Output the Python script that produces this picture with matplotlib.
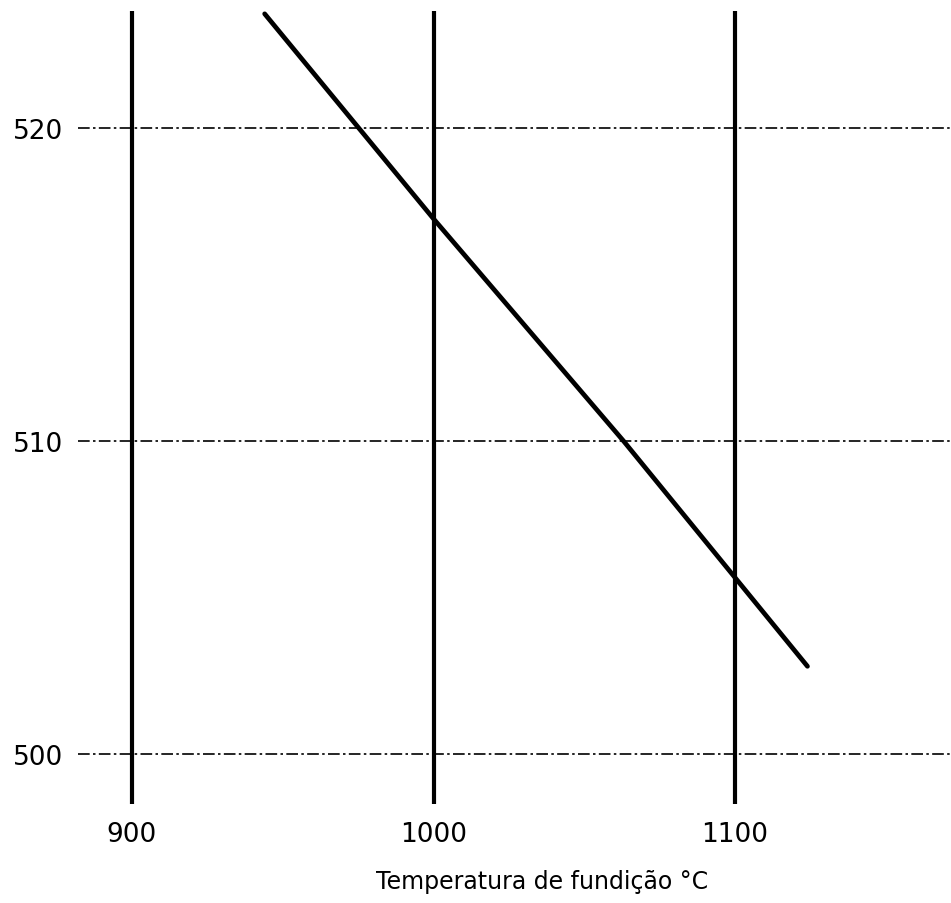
import matplotlib
matplotlib.use("Agg")
import matplotlib.pyplot as plt

# data
temp_c = [944, 1000, 1063, 1124]
values = [523.65, 517.1, 510.0, 502.8]
x_ticks = [900, 1000, 1100]
y_ticks = [500, 510, 520]
x_label = "Temperatura de fundição °C"

W, H = 951, 904
fig = plt.figure(figsize=(W / 100, H / 100), dpi=100)
ax = fig.add_axes([78 / W, (H - 805) / H, (W - 78) / W, (805 - 12) / H])

ax.set_xlim(882.1, 1171.6)
ax.set_ylim(498.4, 523.74)

# heavy vertical grid lines
for xv in x_ticks:
    ax.axvline(xv, color="black", lw=3.0, zorder=1)

# thin dash-dot horizontal grid lines
for yv in y_ticks:
    ax.axhline(yv, color="black", lw=1.2, linestyle=(0, (7, 2, 1.5, 2)), zorder=1)

# the curve
ax.plot(temp_c, values, color="black", lw=3.4, solid_capstyle="round", zorder=2)

for s in ax.spines.values():
    s.set_visible(False)

ax.set_xticks(x_ticks)
ax.set_xticklabels([str(v) for v in x_ticks])
ax.set_yticks(y_ticks)
ax.set_yticklabels([str(v) for v in y_ticks])
ax.tick_params(axis="both", length=0, labelsize=19)
ax.tick_params(axis="x", pad=12)
ax.tick_params(axis="y", pad=11)

fig.text(542 / W, 1 - 882 / H, x_label, ha="center", va="center", fontsize=17)

fig.savefig("out.png", dpi=100)
